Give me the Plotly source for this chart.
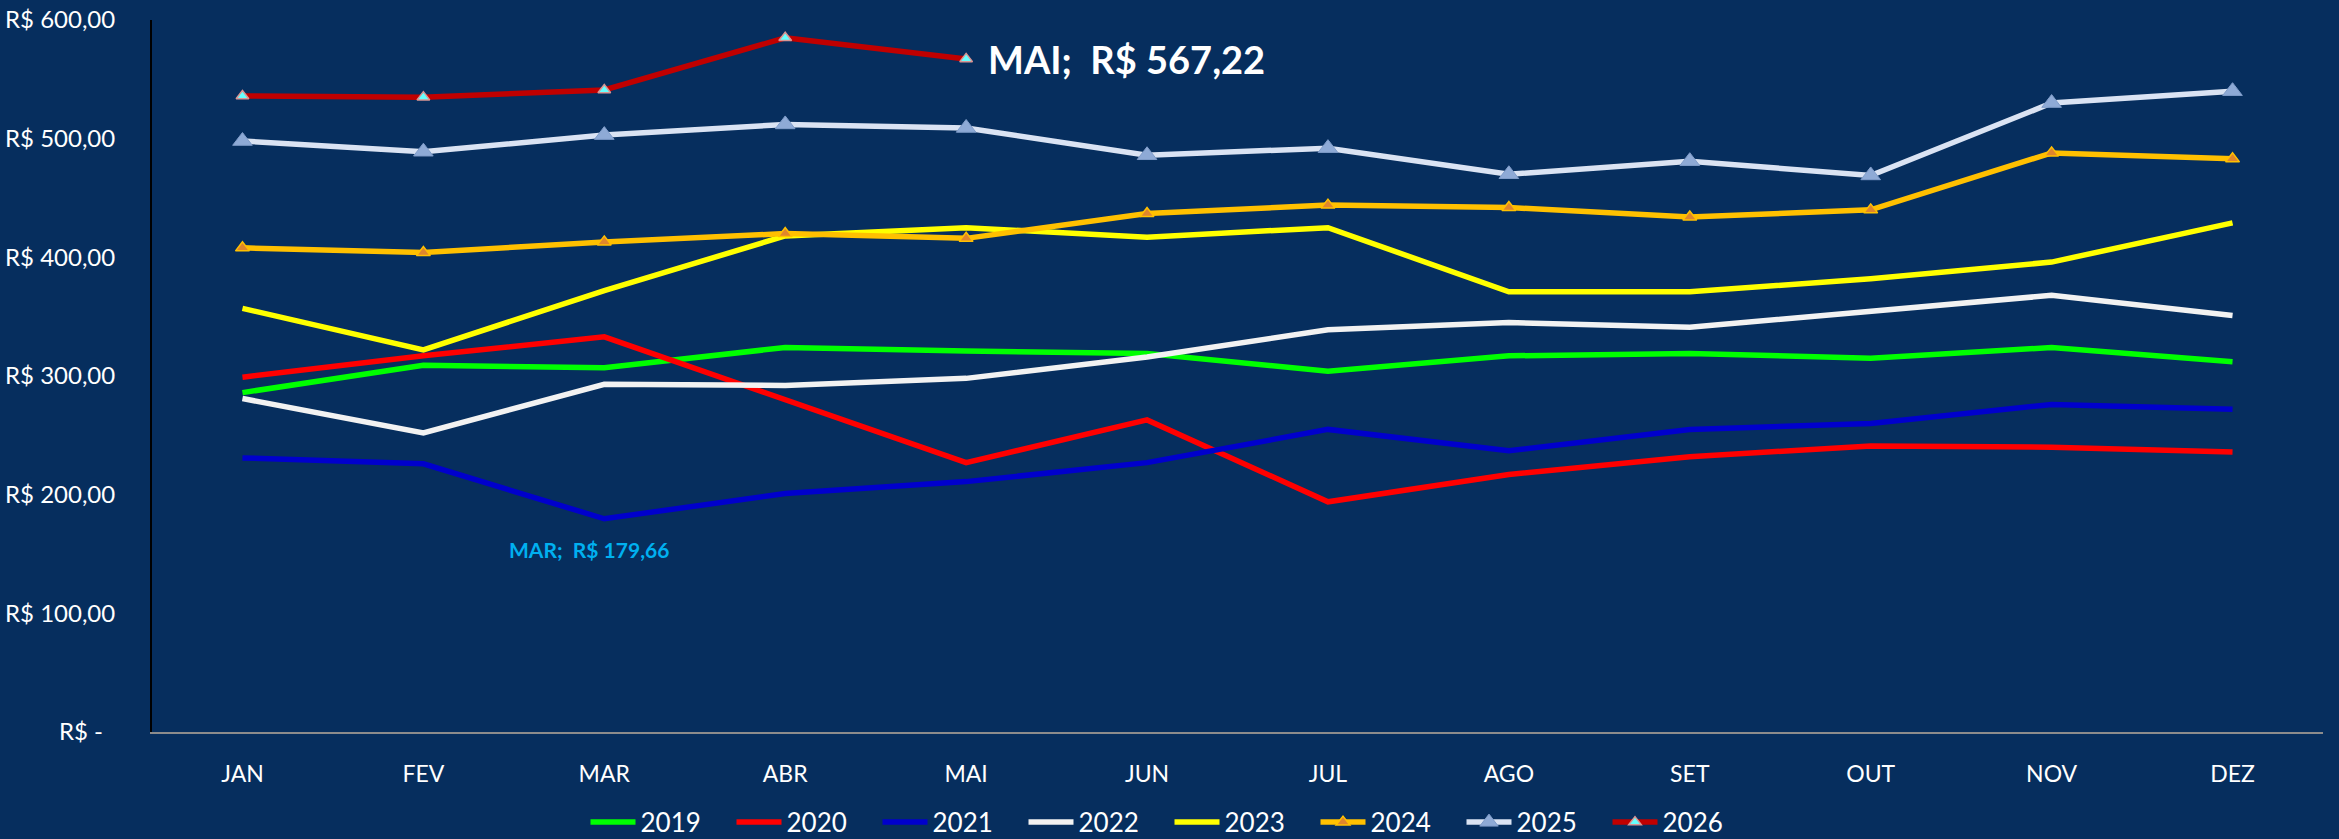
import plotly.graph_objects as go

# -----------------------------
# Dados (R$ por mês)
# -----------------------------
meses = ["JAN", "FEV", "MAR", "ABR", "MAI", "JUN", "JUL", "AGO", "SET", "OUT", "NOV", "DEZ"]

v2019 = [286, 309, 307, 324, 321, 319, 304, 317, 319, 315, 324, 312]
v2020 = [299, 317, 333, 280, 227, 263, 194, 217, 232, 241, 240, 236]
v2021 = [231, 226, 179.66, 201, 211, 227, 255, 237, 255, 260, 276, 272]
v2022 = [281, 252, 293, 292, 298, 316, 339, 345, 341, 355, 368, 351]
v2023 = [357, 322, 372, 418, 425, 417, 425, 371, 371, 382, 396, 429]
v2024 = [408, 404, 413, 420, 416, 437, 444, 442, 434, 440, 488, 483]
v2025 = [498, 489, 503, 512, 509, 486, 492, 470, 481, 469, 530, 540]
v2026 = [536, 535, 541, 585, 567.22]

y_ticks = [0, 100, 200, 300, 400, 500, 600]
y_tick_text = ["R$ -\u00a0\u00a0", "R$ 100,00", "R$ 200,00", "R$ 300,00",
               "R$ 400,00", "R$ 500,00", "R$ 600,00"]

BG = "#062e5e"
FONT = "Lato"


def brl(v):
    return f"R$ {v:.2f}".replace(".", ",")


series = [
    ("2019", v2019, dict(color="#00ff00", width=5.5), None),
    ("2020", v2020, dict(color="#ff0000", width=5.5), None),
    ("2021", v2021, dict(color="#0000cc", width=5.5), None),
    ("2022", v2022, dict(color="#f2f2f2", width=5.5), None),
    ("2023", v2023, dict(color="#ffff00", width=5.5), None),
    ("2024", v2024, dict(color="#ffc000", width=5.5),
     dict(symbol="triangle-up", size=12, color="#e0862c", line=dict(color="#ffc000", width=1.5))),
    ("2025", v2025, dict(color="#dae3f3", width=5.5),
     dict(symbol="triangle-up", size=17, color="#8eaad6", line=dict(color="#7f9cc9", width=1))),
    ("2026", v2026, dict(color="#c00000", width=5.5),
     dict(symbol="triangle-up", size=11, color="#66ffff", line=dict(color="#d99594", width=1.5))),
]

fig = go.Figure()
for name, vals, line, marker in series:
    fig.add_trace(go.Scatter(
        x=meses[:len(vals)],
        y=vals,
        name=name,
        mode="lines+markers" if marker else "lines",
        line=line,
        marker=marker,
    ))

# rótulos de destaque
fig.add_annotation(
    x=meses[4], y=v2026[4],
    text=f"<b>{meses[4]};\u00a0 {brl(v2026[4])}</b>",
    showarrow=False, xanchor="left", xshift=20, yshift=0,
    font=dict(family=FONT, size=38, color="#ffffff"),
)
fig.add_annotation(
    x=meses[2], y=v2021[2],
    text=f"<b>{meses[2]};\u00a0 {brl(v2021[2])}</b>",
    showarrow=False, xanchor="center", xshift=-15, yshift=-31,
    font=dict(family=FONT, size=21, color="#00b0f0"),
)

fig.update_layout(
    width=2339,
    height=839,
    paper_bgcolor=BG,
    plot_bgcolor=BG,
    margin=dict(l=152, r=16, t=20, b=107, autoexpand=False),
    font=dict(family=FONT, color="#ffffff", size=24),
    showlegend=True,
    legend=dict(
        orientation="h",
        xref="container", yref="container",
        x=0.5, xanchor="center",
        y=0.02, yanchor="middle",
        font=dict(size=26, color="#ffffff"),
        itemwidth=45,
        entrywidth=86,
        bgcolor="rgba(0,0,0,0)",
    ),
    xaxis=dict(
        type="category",
        range=[-0.5, 11.5],
        automargin=False,
        showgrid=False,
        zeroline=False,
        showline=True, linecolor="#8c8c8c", linewidth=2,
        ticks="outside", ticklen=20, tickcolor="rgba(0,0,0,0)",
        tickfont=dict(family=FONT, size=23, color="#ffffff"),
    ),
    yaxis=dict(
        range=[0, 600],
        automargin=False,
        showgrid=False,
        zeroline=False,
        showline=True, linecolor="#000000", linewidth=2,
        tickvals=y_ticks, ticktext=y_tick_text,
        ticks="outside", ticklen=30, tickcolor="rgba(0,0,0,0)",
        tickfont=dict(family=FONT, size=24, color="#ffffff"),
    ),
)

fig.write_html("out.html", config={"displayModeBar": False},
               post_script="document.body.style.margin='0';")
